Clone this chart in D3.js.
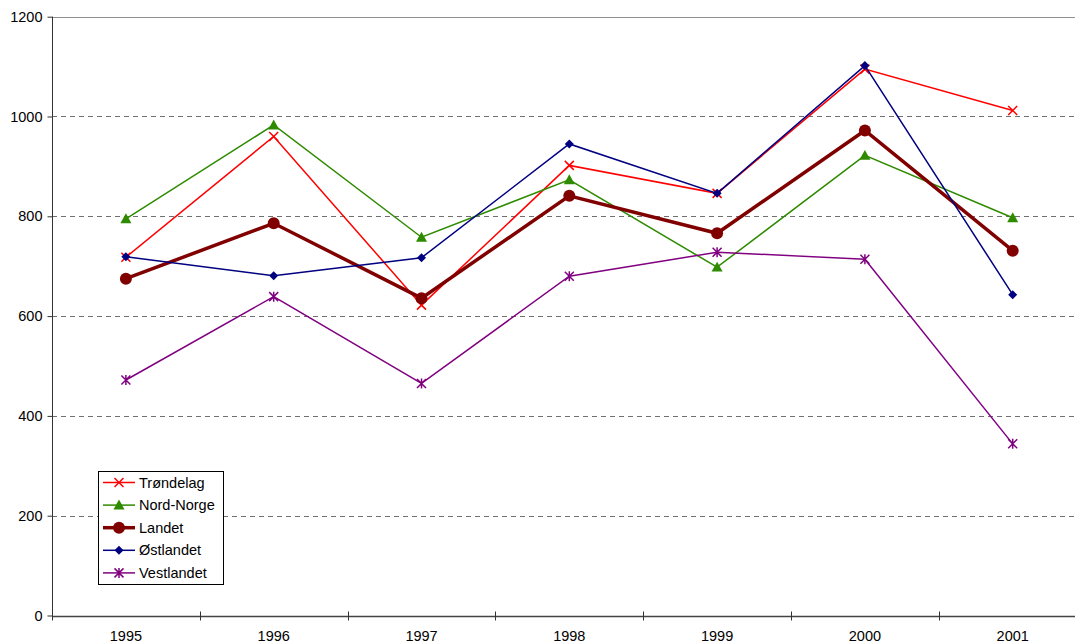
<!DOCTYPE html>
<html><head><meta charset="utf-8">
<script src="https://cdn.jsdelivr.net/npm/d3@7"></script>
<style>body{margin:0;background:#fff}svg{display:block}text{font-family:"Liberation Sans",Arial,sans-serif}</style>
</head><body><svg id="c" width="1075" height="644"></svg>
<script>
const years = ["1995","1996","1997","1998","1999","2000","2001"];
const yTicks = [0,200,400,600,800,1000,1200];
const seriesNames = ["Trøndelag","Nord-Norge","Landet","Østlandet","Vestlandet"];
const trondelag  = [718, 960, 622, 902, 846, 1095, 1012];
const nordNorge  = [795, 983, 758, 873, 698, 922, 797];
const landet     = [675, 786, 636, 841, 766, 972, 731];
const ostlandet  = [719, 681, 717, 945, 846, 1102, 643];
const vestlandet = [472, 639, 465, 680, 728, 714, 344];

const series = [
  {name: seriesNames[0], values: trondelag,  color:"#FF0000", width:1.5, marker:"x"},
  {name: seriesNames[1], values: nordNorge,  color:"#2E8B00", width:1.5, marker:"tri"},
  {name: seriesNames[2], values: landet,     color:"#800000", width:3.5, marker:"circle"},
  {name: seriesNames[3], values: ostlandet,  color:"#000080", width:1.5, marker:"diamond"},
  {name: seriesNames[4], values: vestlandet, color:"#800080", width:1.5, marker:"star"}
];

const FS = 14.5;
const svg = d3.select("#c");
const x = d3.scaleBand().domain(years).range([52, 52 + 7*147.8]);
const y = d3.scaleLinear().domain([0,1200]).range([615.5, 16.7]);
const cx = d => x(d) + x.bandwidth()/2;

// gridlines
svg.append("g").selectAll("line").data(yTicks.filter(t => t > 0)).join("line")
  .attr("x1", 52).attr("x2", 1075)
  .attr("y1", d => Math.round(y(d)) + 0.5).attr("y2", d => Math.round(y(d)) + 0.5)
  .attr("stroke", d => d === 1200 ? "#909090" : "#707070")
  .attr("stroke-width", 1)
  .attr("stroke-dasharray", d => d === 1200 ? null : "5,4");

// y axis
const yAxis = d3.axisLeft(y).tickValues(yTicks).tickSize(5).tickPadding(5).tickFormat(d3.format("d"));
const gy = svg.append("g").attr("transform", "translate(52.5,0)").call(yAxis);
gy.select(".domain").attr("stroke", "#333").attr("d", `M0,${y(1200)}V${y(0)}`);
gy.selectAll(".tick line").attr("stroke", "#333");
gy.selectAll("text").attr("font-size", FS).attr("fill", "#000").attr("font-family", '"Liberation Sans",Arial,sans-serif');

// x axis
const xAxis = d3.axisBottom(x).tickSize(0).tickPadding(0);
const gx = svg.append("g").attr("transform", `translate(0,${Math.round(y(0))+0.5})`).call(xAxis);
gx.select(".domain").attr("stroke", "#444").attr("stroke-width", 1.5).attr("d", `M52,0H1075`);
gx.selectAll("text").attr("font-size", FS).attr("fill", "#000").attr("dy", null).attr("y", 24.5)
  .attr("font-family", '"Liberation Sans",Arial,sans-serif');
// band boundary ticks
svg.append("g").selectAll("line").data(d3.range(0, 8)).join("line")
  .attr("x1", i => Math.round(52 + i*x.bandwidth()) + 0.5)
  .attr("x2", i => Math.round(52 + i*x.bandwidth()) + 0.5)
  .attr("y1", y(0) - 4).attr("y2", y(0) + 5)
  .attr("stroke", "#333");

function drawMarker(g, type, color, px, py) {
  if (type === "x") {
    const s = 4.5;
    g.append("path").attr("d", `M${px-s},${py-s}L${px+s},${py+s}M${px-s},${py+s}L${px+s},${py-s}`)
      .attr("stroke", color).attr("stroke-width", 1.5).attr("fill", "none");
  } else if (type === "tri") {
    const s = 5.5;
    g.append("path").attr("d", `M${px},${py-s}L${px+s},${py+s*0.8}L${px-s},${py+s*0.8}Z`).attr("fill", color);
  } else if (type === "circle") {
    g.append("circle").attr("cx", px).attr("cy", py).attr("r", 6).attr("fill", color);
  } else if (type === "diamond") {
    const s = 4.5;
    g.append("path").attr("d", `M${px},${py-s}L${px+s},${py}L${px},${py+s}L${px-s},${py}Z`).attr("fill", color);
  } else if (type === "star") {
    const s = 4.5;
    g.append("path").attr("d", `M${px-s},${py-s}L${px+s},${py+s}M${px-s},${py+s}L${px+s},${py-s}M${px},${py-s-0.5}L${px},${py+s+0.5}`)
      .attr("stroke", color).attr("stroke-width", 1.5).attr("fill", "none");
  }
}

const line = d3.line().x((d,i) => cx(years[i])).y(d => y(d));
const plot = svg.append("g");
series.forEach(s => {
  plot.append("path").datum(s.values).attr("d", line).attr("fill", "none")
    .attr("stroke", s.color).attr("stroke-width", s.width).attr("stroke-linejoin", "miter");
  s.values.forEach((v, i) => drawMarker(plot, s.marker, s.color, cx(years[i]), y(v)));
});

// legend
const lg = svg.append("g");
lg.append("rect").attr("x", 98.5).attr("y", 471.5).attr("width", 125).attr("height", 113)
  .attr("fill", "#fff").attr("stroke", "#000").attr("stroke-width", 1);
series.forEach((s, i) => {
  const ly = 482.5 + i*22.6;
  lg.append("line").attr("x1", 103).attr("x2", 135).attr("y1", ly).attr("y2", ly)
    .attr("stroke", s.color).attr("stroke-width", s.width);
  drawMarker(lg, s.marker, s.color, 119, ly);
  lg.append("text").attr("x", 139).attr("y", ly + 5).attr("font-size", FS).text(s.name);
});
</script></body></html>
